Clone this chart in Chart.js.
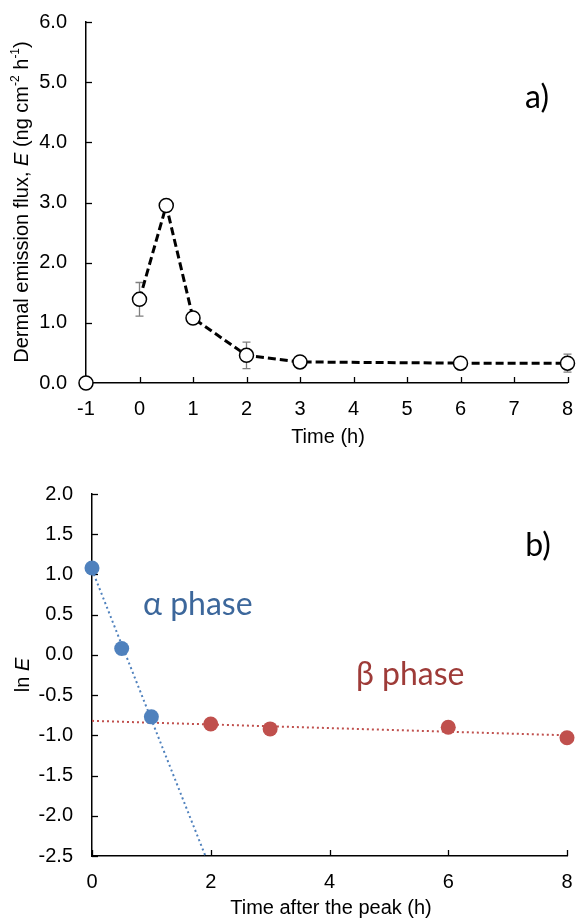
<!DOCTYPE html>
<html>
<head>
<meta charset="utf-8">
<script src="https://cdn.jsdelivr.net/npm/chart.js@4.4.1/dist/chart.umd.min.js"></script>
<style>
  body { margin: 0; background: #fff; }
  canvas { position: absolute; left: 0; }
</style>
</head>
<body>
<canvas id="chartA" width="576" height="460" style="top:0"></canvas>
<canvas id="chartB" width="576" height="461" style="top:460px"></canvas>
<script>
// panel a) emission flux vs time
const timeA = [-1, 0, 0.5, 1, 2, 3, 6, 8];
const fluxA = [0, 1.39, 2.95, 1.08, 0.46, 0.35, 0.33, 0.33];
const errA = [0, 0.28, 0, 0, 0.22, 0.02, 0.05, 0.15];

// panel b) ln E after the peak
const alphaT = [0, 0.5, 1];
const alphaLnE = [1.08, 0.08, -0.77];
const betaT = [2, 3, 6, 8];
const betaLnE = [-0.86, -0.92, -0.90, -1.03];
// trend lines (end points)
const alphaFitT = [0, 1.91];
const alphaFitLnE = [1.06, -2.5];
const betaFitT = [0, 8];
const betaFitLnE = [-0.82, -1.0];

const AX_FONT = "'Liberation Sans', Arial, sans-serif";
const NOTE_FONT = "Lato, 'Open Sans', sans-serif";

const pts = (xs, ys) => xs.map((x, i) => ({ x: x, y: ys[i] }));

// tick marks pointing into the plot
const innerTicks = {
  id: 'innerTicks',
  beforeDatasetsDraw(chart) {
    const { ctx, chartArea, scales } = chart;
    ctx.save();
    ctx.strokeStyle = '#000';
    ctx.lineWidth = 1.3;
    scales.x.ticks.forEach(t => {
      const px = Math.round(scales.x.getPixelForValue(t.value)) + 0.5;
      ctx.beginPath();
      ctx.moveTo(px, chartArea.bottom);
      ctx.lineTo(px, chartArea.bottom - 6);
      ctx.stroke();
    });
    scales.y.ticks.forEach(t => {
      const py = Math.round(scales.y.getPixelForValue(t.value)) + 0.5;
      ctx.beginPath();
      ctx.moveTo(chartArea.left, py);
      ctx.lineTo(chartArea.left + 6, py);
      ctx.stroke();
    });
    ctx.restore();
  }
};

// vertical error bars for panel a
const errorBars = {
  id: 'errorBars',
  beforeDatasetsDraw(chart) {
    const { ctx, scales } = chart;
    ctx.save();
    ctx.strokeStyle = '#7f7f7f';
    ctx.lineWidth = 1.3;
    timeA.forEach((t, i) => {
      if (!errA[i]) return;
      const x = scales.x.getPixelForValue(t);
      const y1 = scales.y.getPixelForValue(fluxA[i] + errA[i]);
      const y2 = scales.y.getPixelForValue(fluxA[i] - errA[i]);
      ctx.beginPath();
      ctx.moveTo(x, y1); ctx.lineTo(x, y2);
      ctx.moveTo(x - 4, y1); ctx.lineTo(x + 4, y1);
      ctx.moveTo(x - 4, y2); ctx.lineTo(x + 4, y2);
      ctx.stroke();
    });
    ctx.restore();
  }
};

function drawRich(ctx, parts, cx, cy, size, rotate) {
  ctx.save();
  ctx.translate(cx, cy);
  if (rotate) ctx.rotate(-Math.PI / 2);
  ctx.textBaseline = 'middle';
  ctx.fillStyle = '#000';
  const fontOf = p => (p.it ? 'italic ' : '') + (p.sup ? Math.round(size * 0.62) : size) + 'px ' + AX_FONT;
  let total = 0;
  parts.forEach(p => { ctx.font = fontOf(p); total += ctx.measureText(p.t).width; });
  let x = -total / 2;
  parts.forEach(p => {
    ctx.font = fontOf(p);
    ctx.textAlign = 'left';
    ctx.fillText(p.t, x, p.sup ? -size * 0.33 : 0);
    x += ctx.measureText(p.t).width;
  });
  ctx.restore();
}

function note(ctx, text, x, y, color, align) {
  ctx.save();
  ctx.font = '32px ' + NOTE_FONT;
  ctx.fillStyle = color;
  ctx.textAlign = align || 'left';
  ctx.textBaseline = 'middle';
  ctx.fillText(text, x, y);
  ctx.restore();
}

const labelsA = {
  id: 'labelsA',
  afterDraw(chart) {
    const ctx = chart.ctx;
    drawRich(ctx, [
      { t: 'Dermal emission flux, ' }, { t: 'E', it: true }, { t: ' (ng cm' },
      { t: '-2', sup: true }, { t: ' h' }, { t: '-1', sup: true }, { t: ')' }
    ], 22, 202, 20, true);
    drawRich(ctx, [{ t: 'Time (h)' }], 328, 437, 20, false);
    note(ctx, 'a)', 537, 98, '#000', 'center');
  }
};

const labelsB = {
  id: 'labelsB',
  afterDraw(chart) {
    const ctx = chart.ctx;
    drawRich(ctx, [{ t: 'ln ' }, { t: 'E', it: true }], 23, 215, 20, true);
    drawRich(ctx, [{ t: 'Time after the peak (h)' }], 331, 448, 20, false);
    note(ctx, 'b)', 538, 86, '#000', 'center');
    note(ctx, '\u03b1 phase', 143, 145, '#3c679b');
    note(ctx, '\u03b2 phase', 356, 215, '#9e3b38');
  }
};

function axes(xMin, xMax, xStep, yMin, yMax, yStep, yWidth, xHeight, tickSize) {
  const tickFont = { family: AX_FONT, size: tickSize };
  return {
    x: {
      type: 'linear', min: xMin, max: xMax,
      grid: { display: false, drawTicks: false },
      border: { display: true, color: '#000', width: 1.5 },
      ticks: { stepSize: xStep, color: '#000', font: tickFont, padding: 14, maxRotation: 0 },
      afterFit(s) { s.height = xHeight; s.paddingLeft = 0; s.paddingRight = 0; }
    },
    y: {
      min: yMin, max: yMax,
      grid: { display: false, drawTicks: false },
      border: { display: true, color: '#000', width: 1.5 },
      ticks: { stepSize: yStep, color: '#000', font: tickFont, padding: 19,
        callback: v => Number(v).toFixed(1) },
      afterFit(s) { s.width = yWidth; s.paddingTop = 0; s.paddingBottom = 0; }
    }
  };
}

const common = {
  responsive: false,
  animation: false,
  devicePixelRatio: 1,
  plugins: { legend: { display: false }, tooltip: { enabled: false } }
};

new Chart(document.getElementById('chartA'), {
  type: 'scatter',
  data: {
    datasets: [{
      data: pts(timeA, fluxA),
      showLine: true,
      borderColor: '#000',
      borderWidth: 3,
      borderDash: [8, 4],
      segment: { borderColor: c => c.p0DataIndex === 0 ? 'rgba(0,0,0,0)' : '#000' },
      pointRadius: 7,
      pointBorderWidth: 1.5,
      pointBorderColor: '#000',
      pointBackgroundColor: '#fff',
      clip: false
    }]
  },
  options: Object.assign({}, common, {
    layout: { padding: { top: 22, right: 5, left: 0, bottom: 0 } },
    scales: axes(-1, 8, 1, 0, 6, 1, 86, 77, 20)
  }),
  plugins: [errorBars, innerTicks, labelsA]
});

new Chart(document.getElementById('chartB'), {
  type: 'scatter',
  data: {
    datasets: [
      { data: pts(alphaT, alphaLnE), pointRadius: 7.5, pointBorderWidth: 0,
        pointBackgroundColor: '#4f81bd', order: 1, clip: false },
      { data: pts(betaT, betaLnE), pointRadius: 7.5, pointBorderWidth: 0,
        pointBackgroundColor: '#c0504d', order: 1, clip: false },
      { data: pts(alphaFitT, alphaFitLnE), showLine: true, pointRadius: 0,
        borderColor: '#4f81bd', borderWidth: 2, borderDash: [2, 3], order: 2 },
      { data: pts(betaFitT, betaFitLnE), showLine: true, pointRadius: 0,
        borderColor: '#c0504d', borderWidth: 2, borderDash: [2, 3], order: 2 }
    ]
  },
  options: Object.assign({}, common, {
    layout: { padding: { top: 34, right: 9, left: 0, bottom: 0 } },
    scales: axes(0, 8, 2, -2.5, 2, 0.5, 92, 65, 20)
  }),
  plugins: [innerTicks, labelsB]
});
</script>
</body>
</html>
